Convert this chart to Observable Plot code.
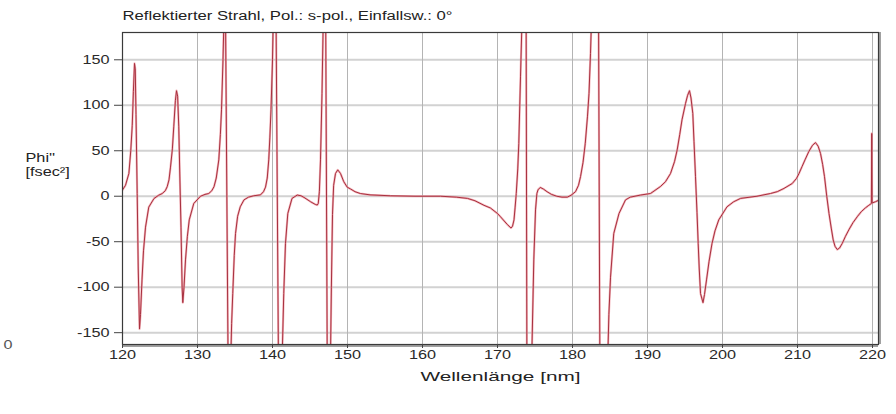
<!DOCTYPE html>
<html><head><meta charset="utf-8">
<script src="https://cdn.jsdelivr.net/npm/d3@7"></script>
<script src="https://cdn.jsdelivr.net/npm/@observablehq/plot@0.6"></script>
<style>
html,body{margin:0;padding:0;background:#fff;}
</style></head><body><div id="chart"></div>
<script>
const title = "Reflektierter Strahl, Pol.: s-pol., Einfallsw.: 0°";
const xLabel = "Wellenlänge [nm]";
const yLabelLines = ["Phi''", "[fsec²]"];
const strayLabel = "0";
const xTicks = [120, 130, 140, 150, 160, 170, 180, 190, 200, 210, 220];
const yTicks = [-150, -100, -50, 0, 50, 100, 150];
const xDomain = [120, 220.8];
const yDomain = [-163, 180];

const wavelength = [
  120.0, 120.4, 120.85, 121.1, 121.3, 121.45, 121.6, 121.7, 121.8, 121.96,
  122.1, 122.27, 122.4, 122.6, 122.8, 123.07, 123.5, 124.2, 124.8, 125.3,
  125.7, 125.96, 126.2, 126.4, 126.65, 126.84, 127.05, 127.2, 127.35, 127.5,
  127.65, 127.8, 127.95, 128.04, 128.2, 128.4, 128.65, 128.9, 129.5, 130.4,
  131.0, 131.5, 131.9, 132.2, 132.5, 132.84, 133.05, 133.2, 133.4, 133.5,
  133.62, 133.75, 134.08, 134.25, 134.42, 134.55, 134.7, 134.9, 135.07, 135.35,
  135.7, 136.2, 136.8, 137.5, 138.4, 138.8, 139.07, 139.3, 139.5, 139.65,
  139.8, 140.0, 140.1, 140.3, 140.48, 140.8, 141.05, 141.25, 141.5, 141.73,
  142.04, 142.6, 143.3, 143.8, 144.2, 145.07, 145.7, 145.96, 146.1, 146.25,
  146.4, 146.6, 146.75, 146.92, 147.1, 147.3, 147.5, 147.72, 147.85, 148.0,
  148.15, 148.4, 148.7, 149.07, 149.5, 149.96, 150.4, 151.0, 151.7, 153.0,
  155.7, 159.0, 162.4, 164.5, 166.0, 167.0, 168.2, 169.07, 170.0, 170.4,
  171.3, 171.8, 172.0, 172.2, 172.35, 172.5, 172.7, 172.84, 173.07, 173.24,
  173.5, 173.82, 173.92, 174.25, 174.55, 174.84, 175.07, 175.25, 175.4, 175.7,
  176.1, 176.6, 177.2, 177.9, 178.6, 179.3, 179.8, 180.4, 180.8, 181.07,
  181.4, 181.7, 182.0, 182.2, 182.4, 182.5, 183.0, 183.48, 183.65, 184.2,
  184.68, 184.85, 185.07, 185.5, 186.2, 187.07, 187.7, 189.07, 190.4, 191.7,
  192.4, 193.07, 193.6, 193.96, 194.3, 194.6, 195.07, 195.35, 195.6, 195.8,
  196.04, 196.2, 196.4, 196.6, 196.76, 196.9, 197.07, 197.4, 197.6, 197.87,
  198.2, 198.6, 199.0, 199.5, 200.6, 201.5, 202.4, 204.6, 206.4, 207.3,
  208.2, 209.3, 209.87, 210.2, 210.6, 211.0, 211.5, 212.0, 212.4, 212.75,
  213.07, 213.35, 213.6, 213.9, 214.2, 214.5, 214.76, 215.0, 215.3, 215.6,
  215.96, 216.4, 216.84, 217.4, 217.96, 218.5, 219.07, 219.5, 219.85, 219.9,
  219.95, 220.4, 220.8
];
const phi = [
  7, 12, 25, 50, 78, 115, 146, 140, 90, 3,
  -80, -146, -130, -92, -60, -34, -12, -2.5, 1, 3,
  6, 10.5, 18, 32, 52, 77, 105, 116, 110, 77,
  20, -34, -100, -117, -100, -70, -44, -26, -8, 0,
  2, 3, 6, 10.5, 20, 40, 68, 95, 150, 185,
  260, 185, -185, -260, -185, -140, -107, -65, -41, -22,
  -11.6, -4, -1, 0.5, 1.5, 5, 10, 20, 40, 65,
  95, 150, 190, 260, 190, -190, -260, -190, -107, -52,
  -19, -2.4, 1.3, 0.5, -1.3, -6, -9, -9.7, -8, 5,
  40, 113, 185, 260, 185, -185, -260, -185, -100, -20,
  12, 25, 29, 25, 16, 10, 8, 5, 3, 1.5,
  0.5, 0, 0, -1, -2.4, -5, -10, -13, -19, -22.6,
  -31, -35, -33, -26, -12, 3, 30, 58, 132, 185,
  260, 185, -185, -260, -185, -70, -15, 3, 7, 9.7,
  8, 5, 2, 0, -1, -1, 1, 5, 12, 21.5,
  37, 58, 88, 113, 157, 185, 260, 185, -185, -260,
  -185, -130, -89, -41, -19, -4, -1, 1.3, 3, 10.5,
  16, 25, 38, 51, 68, 84, 102, 111, 116, 108,
  91, 60, 21.5, -18, -52, -80, -107, -117, -108, -92,
  -72, -52, -38, -26, -11.6, -6, -2.4, 0, 3, 5,
  8.6, 14, 19.6, 25, 32.5, 40, 49, 56, 59, 55,
  47, 35, 21.5, 0, -19, -35, -48, -55, -58.6, -57,
  -52, -44, -37, -29, -22.6, -17, -12.7, -10, -8, 69,
  -7.5, -6, -4.5
];

const data = wavelength.map((x, i) => ({x, y: phi[i]}));

const plot = Plot.plot({
  width: 896,
  height: 414,
  marginTop: 32,
  marginBottom: 70,
  marginLeft: 122,
  marginRight: 18,
  style: {fontFamily: "'Liberation Sans', Arial, sans-serif", fontSize: "12.5px", color: "#2a2a2a", background: "#fff"},
  x: {domain: xDomain},
  y: {domain: yDomain},
  marks: [
    Plot.ruleY(yTicks, {stroke: "#d2d2d2", strokeWidth: 2}),
    Plot.ruleX(xTicks, {stroke: "#b4b4b4", strokeWidth: 1}),
    Plot.line(data, {x: "x", y: "y", clip: true, stroke: "#ee97a0", strokeWidth: 2.2, strokeOpacity: 0.7}),
    Plot.line(data, {x: "x", y: "y", clip: true, stroke: "#a8303f", strokeWidth: 1.0}),
    Plot.ruleY([yDomain[0]], {stroke: "#a0a0a0", strokeWidth: 2, dy: 1.5}),
    Plot.ruleX([xDomain[1]], {stroke: "#a0a0a0", strokeWidth: 2, dx: 1.5}),
    Plot.frame({stroke: "#3a3a3a", strokeWidth: 1.2}),
    Plot.axisX(xTicks, {tickSize: 4, tickPadding: 2, tickFormat: d => String(d), label: null, stroke: "#444"}),
    Plot.axisY(yTicks, {tickSize: 8, tickPadding: 5, tickFormat: d => String(d), label: null, stroke: "#444"}),
    Plot.text([title], {frameAnchor: "top-left", dy: -17, textAnchor: "start", lineAnchor: "middle", fontSize: 12.5, fill: "#222"}),
    Plot.text([xLabel], {frameAnchor: "bottom", dy: 32, lineAnchor: "middle", fontSize: 13.5, fill: "#222"}),
    Plot.text([yLabelLines[0]], {frameAnchor: "top-left", dx: -97, dy: 125, textAnchor: "start", lineAnchor: "middle", fontSize: 12.5, fill: "#222"}),
    Plot.text([yLabelLines[1]], {frameAnchor: "top-left", dx: -97, dy: 139, textAnchor: "start", lineAnchor: "middle", fontSize: 12.5, fill: "#222"}),
    Plot.text([strayLabel], {frameAnchor: "bottom-left", dx: -119, dy: 0, textAnchor: "start", lineAnchor: "middle", fontSize: 12.5, fill: "#555"})
  ]
});

document.getElementById("chart").append(plot);

// horizontally widen the lettering like the reference's extended sans face
plot.querySelectorAll("text").forEach(t => {
  const txt = t.textContent;
  const len = t.getComputedTextLength();
  if (!len) return;
  let target = len * 1.3;
  if (txt === title) target = 330;
  else if (txt === xLabel) target = 160;
  t.setAttribute("textLength", target.toFixed(1));
  t.setAttribute("lengthAdjust", "spacingAndGlyphs");
});
</script>
</body></html>
